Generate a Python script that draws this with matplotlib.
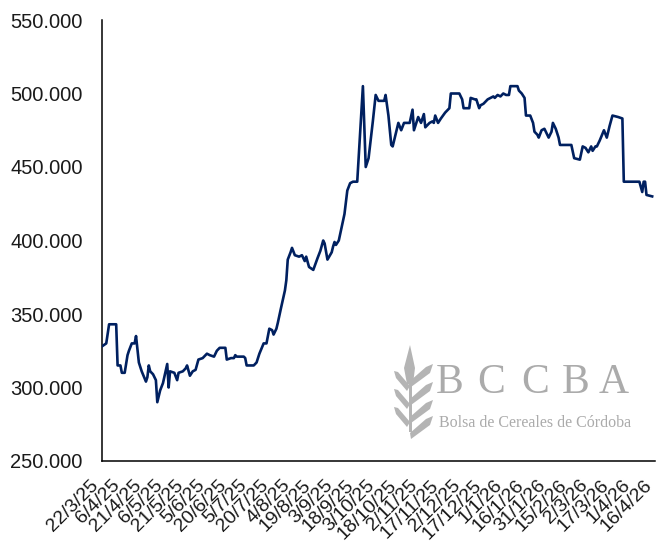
import matplotlib
matplotlib.use("Agg")
import matplotlib.pyplot as plt
import pandas as pd
from matplotlib.patches import Polygon
from matplotlib.ticker import FuncFormatter

# ---------------- data ----------------
dates = [
    "2025-03-22", "2025-03-25", "2025-03-27", "2025-04-01", "2025-04-02", "2025-04-04", "2025-04-05",
    "2025-04-07", "2025-04-09", "2025-04-10", "2025-04-12", "2025-04-14", "2025-04-15", "2025-04-17",
    "2025-04-19", "2025-04-22", "2025-04-23", "2025-04-24", "2025-04-25", "2025-04-27", "2025-04-29",
    "2025-04-30", "2025-05-02", "2025-05-04", "2025-05-07", "2025-05-08", "2025-05-09", "2025-05-12",
    "2025-05-14", "2025-05-15", "2025-05-18", "2025-05-20", "2025-05-21", "2025-05-23", "2025-05-25",
    "2025-05-27", "2025-05-29", "2025-06-01", "2025-06-02", "2025-06-04", "2025-06-06", "2025-06-09",
    "2025-06-11", "2025-06-13", "2025-06-17", "2025-06-18", "2025-06-21", "2025-06-23", "2025-06-24",
    "2025-06-25", "2025-06-30", "2025-07-01", "2025-07-02", "2025-07-07", "2025-07-09", "2025-07-11",
    "2025-07-14", "2025-07-16", "2025-07-18", "2025-07-20", "2025-07-21", "2025-07-23", "2025-07-24",
    "2025-07-26", "2025-07-29", "2025-07-30", "2025-07-31", "2025-08-02", "2025-08-03", "2025-08-05",
    "2025-08-08", "2025-08-10", "2025-08-12", "2025-08-13", "2025-08-15", "2025-08-18", "2025-08-21",
    "2025-08-23", "2025-08-25", "2025-08-26", "2025-08-28", "2025-08-31", "2025-09-01", "2025-09-02",
    "2025-09-03", "2025-09-05", "2025-09-07", "2025-09-09", "2025-09-11", "2025-09-13", "2025-09-15",
    "2025-09-18", "2025-09-22", "2025-09-24", "2025-09-26", "2025-09-29", "2025-10-01", "2025-10-03",
    "2025-10-07", "2025-10-08", "2025-10-10", "2025-10-12", "2025-10-13", "2025-10-15", "2025-10-17",
    "2025-10-19", "2025-10-21", "2025-10-25", "2025-10-27", "2025-10-28", "2025-10-31", "2025-11-02",
    "2025-11-04", "2025-11-05", "2025-11-08", "2025-11-10", "2025-11-11", "2025-11-12", "2025-11-14",
    "2025-11-16", "2025-11-19", "2025-11-22", "2025-11-23", "2025-11-29", "2025-12-01", "2025-12-02",
    "2025-12-06", "2025-12-07", "2025-12-10", "2025-12-11", "2025-12-13", "2025-12-14", "2025-12-16",
    "2025-12-19", "2025-12-23", "2025-12-24", "2025-12-26", "2025-12-28", "2025-12-30", "2026-01-01",
    "2026-01-03", "2026-01-04", "2026-01-09", "2026-01-10", "2026-01-12", "2026-01-14", "2026-01-15",
    "2026-01-18", "2026-01-20", "2026-01-21", "2026-01-23", "2026-01-24", "2026-01-26", "2026-01-28",
    "2026-01-31", "2026-02-02", "2026-02-03", "2026-02-05", "2026-02-07", "2026-02-08", "2026-02-16",
    "2026-02-18", "2026-02-22", "2026-02-24", "2026-02-26", "2026-02-28", "2026-03-02", "2026-03-03",
    "2026-03-05", "2026-03-06", "2026-03-08", "2026-03-11", "2026-03-13", "2026-03-15", "2026-03-17",
    "2026-03-21", "2026-03-24", "2026-03-25", "2026-04-05", "2026-04-07", "2026-04-08", "2026-04-09",
    "2026-04-10", "2026-04-14",
]
values_thousands = [
    328, 330, 343, 343, 315, 315, 310,
    310, 322, 325, 330, 330, 335, 317,
    311, 304, 307, 315, 311, 309, 305,
    290, 298, 303, 316, 300, 311, 310,
    305, 310, 311, 313, 315, 308, 311,
    312, 319, 320, 321, 323, 322, 321,
    325, 327, 327, 319, 320, 320, 322,
    321, 321, 320, 315, 315, 317, 323,
    330, 330, 340, 339, 336, 340, 344,
    353, 366, 373, 387, 392, 395, 390,
    389, 390, 386, 389, 382, 380, 388,
    393, 400, 398, 387, 392, 396, 399,
    397, 400, 409, 418, 434, 439, 440,
    440, 505, 450, 456, 481, 499, 495,
    495, 499, 485, 465, 464, 472, 480,
    475, 480, 480, 489, 475, 484, 480,
    486, 477, 480, 481, 480, 485, 480,
    483, 487, 490, 500, 500, 496, 490,
    490, 497, 496, 496, 490, 492, 493,
    496, 498, 497, 499, 498, 500, 499,
    499, 505, 505, 502, 500, 497, 485,
    485, 480, 474, 472, 470, 475, 476,
    470, 474, 480, 476, 470, 465, 465,
    456, 455, 464, 463, 460, 464, 461,
    464, 464, 468, 475, 470, 478, 485,
    484, 483, 440, 440, 433, 440, 440,
    431, 430,
]
values = [v * 1000 for v in values_thousands]

tick_dates = pd.date_range("2025-03-22", "2026-04-16", freq="15D")
tick_labels = [
    "22/3/25", "6/4/25", "21/4/25", "6/5/25", "21/5/25", "5/6/25", "20/6/25", "5/7/25",
    "20/7/25", "4/8/25", "19/8/25", "3/9/25", "18/9/25", "3/10/25", "18/10/25", "2/11/25",
    "17/11/25", "2/12/25", "17/12/25", "1/1/26", "16/1/26", "31/1/26", "15/2/26", "2/3/26",
    "17/3/26", "1/4/26", "16/4/26",
]
y_ticks = [250000, 300000, 350000, 400000, 450000, 500000, 550000]

# ---------------- figure ----------------
W, H = 657, 544
fig = plt.figure(figsize=(W / 100, H / 100), dpi=100)
plt.rcParams["font.family"] = ["Liberation Sans", "DejaVu Sans"]

def px_rect(x0, y0, x1, y1):
    return [x0 / W, 1 - y1 / H, (x1 - x0) / W, (y1 - y0) / H]

ax = fig.add_axes(px_rect(102, 20, 655, 461))
ax.plot(pd.to_datetime(dates), values, color="#002060", lw=1.9, solid_joinstyle="round", zorder=3)

ax.set_xlim(tick_dates[0], tick_dates[-1])
ax.set_ylim(250000, 550000)
ax.set_yticks(y_ticks)
ax.yaxis.set_major_formatter(FuncFormatter(lambda v, p: f"{int(v):,}".replace(",", ".")))
ax.set_xticks(tick_dates)
ax.set_xticklabels(tick_labels, rotation=45, ha="right", va="bottom", rotation_mode="anchor")

for s in ["top", "right"]:
    ax.spines[s].set_visible(False)
for s in ["left", "bottom"]:
    ax.spines[s].set_color("black")
    ax.spines[s].set_linewidth(1.1)
ax.tick_params(axis="y", length=0, pad=14, labelsize=14.5, colors="#1a1a1a")
ax.tick_params(axis="x", length=0, pad=20, labelsize=14, colors="#1a1a1a")
ax.set_facecolor("none")

# ---------------- watermark logo ----------------
logo_gray = "#ababab"
for letter, xc in zip(["B", "C", "C", "B", "A"], [450, 491, 535, 576, 614]):
    fig.text(xc / W, 1 - 383 / H, letter, fontsize=30, family="Liberation Serif",
             color=logo_gray, ha="center", va="center")
fig.text(535 / W, 1 - 423 / H, "Bolsa de Cereales de Córdoba", fontsize=11.5, family="Liberation Serif",
         color=logo_gray, ha="center", va="center")

lax = fig.add_axes(px_rect(388, 342, 438, 440))
lax.set_xlim(388, 438)
lax.set_ylim(440, 342)
lax.axis("off")
leaf_c = "#b4b4b4"
# top spike
lax.add_patch(Polygon([(410, 345), (404, 368), (407, 384), (413, 384), (415, 368)], closed=True, color=leaf_c, lw=0))
# stem
lax.add_patch(Polygon([(408.5, 380), (411.5, 380), (411.5, 432), (408.5, 432)], closed=True, color=leaf_c, lw=0))
# left leaves
for yb in [380, 398, 416]:
    lax.add_patch(Polygon([(410, yb + 6), (398, yb - 8), (394, yb - 9), (396, yb - 2), (407, yb + 11)],
                          closed=True, color=leaf_c, lw=0))
# right leaves
for yb in [372, 390, 408, 424]:
    lax.add_patch(Polygon([(410, yb + 9), (426, yb - 5), (433, yb - 8), (430, yb + 1), (411, yb + 15)],
                          closed=True, color=leaf_c, lw=0))

fig.savefig("out.png", dpi=100)
